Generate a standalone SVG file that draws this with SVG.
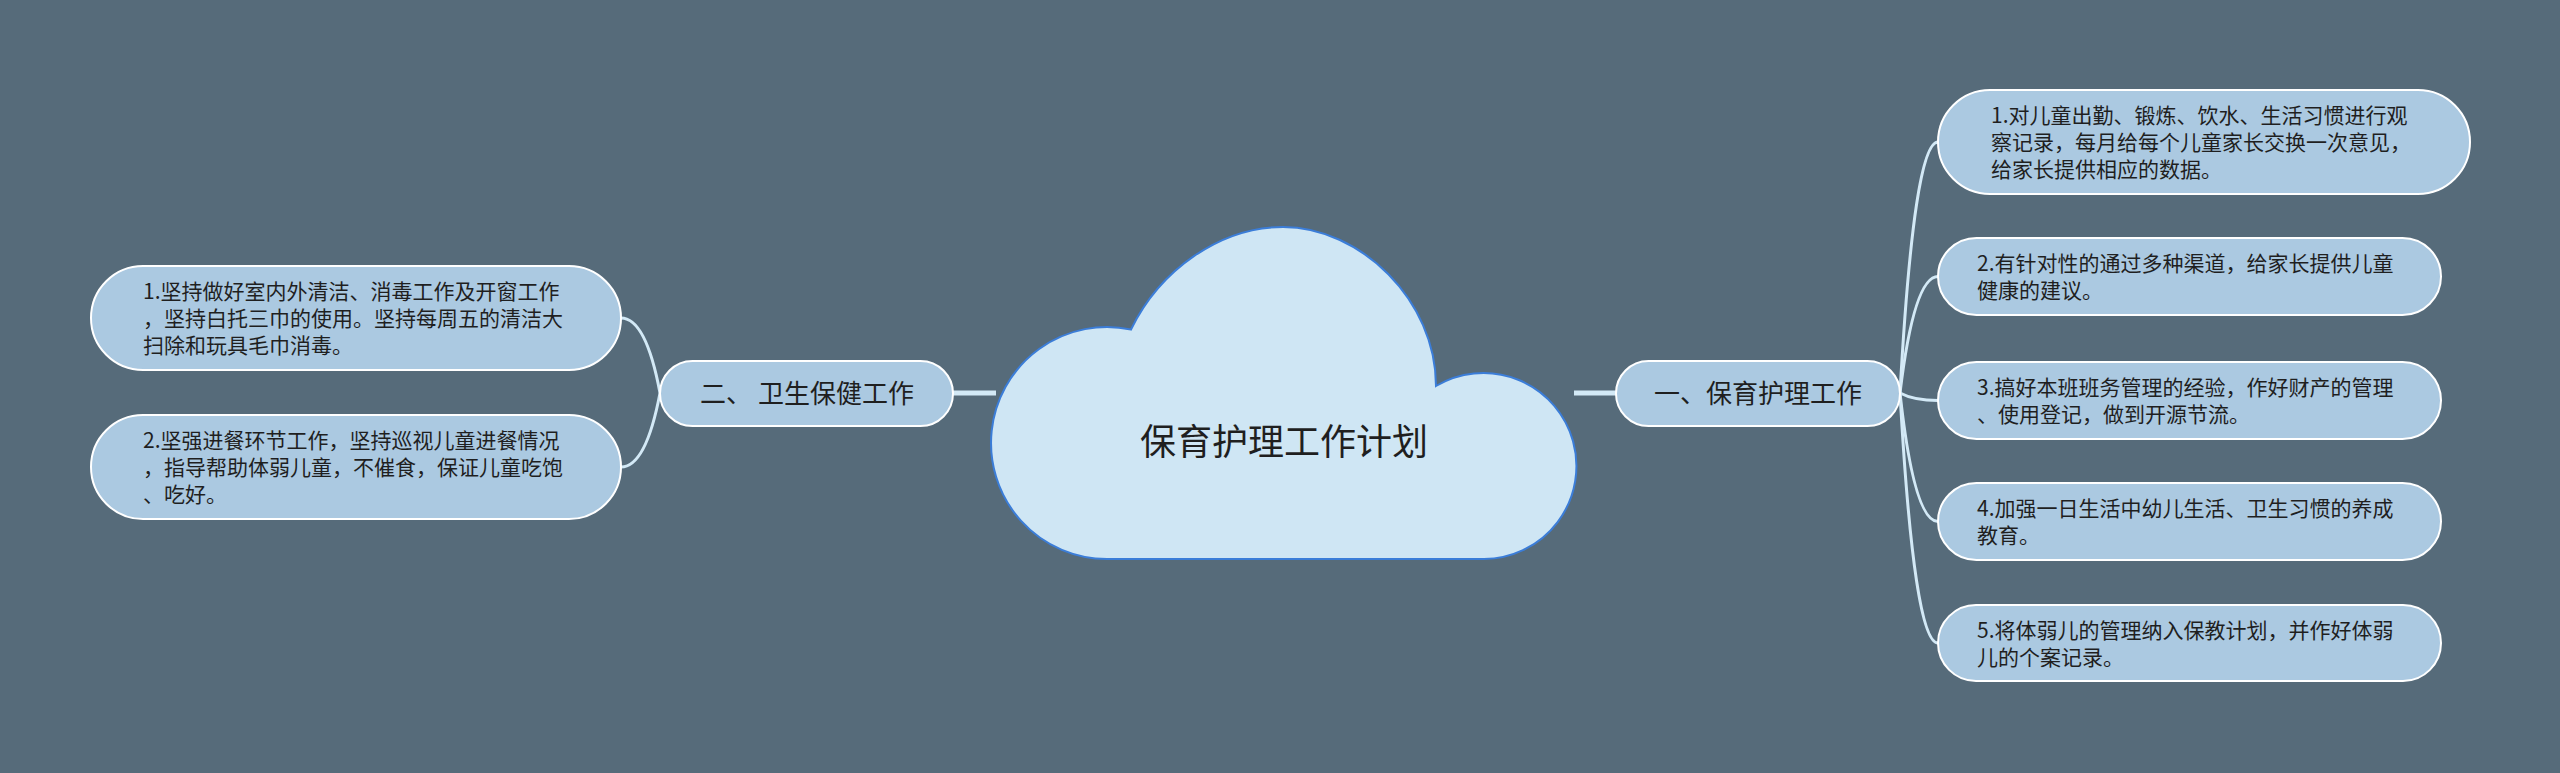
<svg xmlns="http://www.w3.org/2000/svg" width="2560" height="773" viewBox="0 0 2560 773">
<style>
text{font-family:"Noto Sans CJK SC","Noto Sans",sans-serif;fill:#1f1f1f}
.box{fill:#abc9e1;stroke:#ffffff;stroke-width:2}
.t{font-size:21px}
.m{font-size:26px}
.conn{fill:none;stroke:#d3e9f6;stroke-width:3}
.trunk{fill:none;stroke:#d3e9f6;stroke-width:5}
</style>
<rect x="0" y="0" width="2560" height="773" fill="#566b7a"/>
<g id="connectors">
<line class="trunk" x1="953" y1="393" x2="996" y2="393"/>
<line class="trunk" x1="1574" y1="393" x2="1617" y2="393"/>
<path class="conn" d="M660,393 Q646,318 621,318"/>
<path class="conn" d="M660,393 Q646,467 621,467"/>
<path class="conn" d="M1900,393 Q1914,142 1938,142"/>
<path class="conn" d="M1900,393 Q1914,276.5 1938,276.5"/>
<path class="conn" d="M1900,393 Q1914,400.5 1938,400.5"/>
<path class="conn" d="M1900,393 Q1914,521.5 1938,521.5"/>
<path class="conn" d="M1900,393 Q1914,643 1938,643"/>
</g>
<g id="root">
<path d="M1107,559 A116,116 0 1 1 1131,329.5 C1160,270 1220,227 1283,227 C1360,227 1436,300 1436,386 A93,93 0 1 1 1484,559 Z" fill="#cfe6f4" stroke="#3b7dd8" stroke-width="2"/>
<text x="1284" y="455" font-size="36" text-anchor="middle">保育护理工作计划</text>
</g>
<g id="branch1">
<rect class="box" x="1616" y="361" width="284" height="65" rx="32.5"/>
<text class="m" x="1758" y="403" text-anchor="middle">一、保育护理工作</text>
</g>
<g id="branch2">
<rect class="box" x="660" y="361" width="293" height="65" rx="32.5"/>
<text class="m" x="807" y="403" text-anchor="middle">二、 卫生保健工作</text>
</g>
<g id="b1c1">
<rect class="box" x="1938" y="90" width="532" height="104" rx="52"/>
<text class="t" x="1991" y="123">1.对儿童出勤、锻炼、饮水、生活习惯进行观</text>
<text class="t" x="1991" y="150">察记录，每月给每个儿童家长交换一次意见，</text>
<text class="t" x="1991" y="177">给家长提供相应的数据。</text>
</g>
<g id="b1c2">
<rect class="box" x="1938" y="238" width="503" height="77" rx="38.5"/>
<text class="t" x="1977" y="271">2.有针对性的通过多种渠道，给家长提供儿童</text>
<text class="t" x="1977" y="298">健康的建议。</text>
</g>
<g id="b1c3">
<rect class="box" x="1938" y="362" width="503" height="77" rx="38.5"/>
<text class="t" x="1977" y="395">3.搞好本班班务管理的经验，作好财产的管理</text>
<text class="t" x="1977" y="422">、使用登记，做到开源节流。</text>
</g>
<g id="b1c4">
<rect class="box" x="1938" y="483" width="503" height="77" rx="38.5"/>
<text class="t" x="1977" y="516">4.加强一日生活中幼儿生活、卫生习惯的养成</text>
<text class="t" x="1977" y="543">教育。</text>
</g>
<g id="b1c5">
<rect class="box" x="1938" y="605" width="503" height="76" rx="38"/>
<text class="t" x="1977" y="638">5.将体弱儿的管理纳入保教计划，并作好体弱</text>
<text class="t" x="1977" y="665">儿的个案记录。</text>
</g>
<g id="b2c1">
<rect class="box" x="91" y="266" width="530" height="104" rx="52"/>
<text class="t" x="143" y="299">1.坚持做好室内外清洁、消毒工作及开窗工作</text>
<text class="t" x="143" y="326">，坚持白托三巾的使用。坚持每周五的清洁大</text>
<text class="t" x="143" y="353">扫除和玩具毛巾消毒。</text>
</g>
<g id="b2c2">
<rect class="box" x="91" y="415" width="530" height="104" rx="52"/>
<text class="t" x="143" y="448">2.坚强进餐环节工作，坚持巡视儿童进餐情况</text>
<text class="t" x="143" y="475">，指导帮助体弱儿童，不催食，保证儿童吃饱</text>
<text class="t" x="143" y="502">、吃好。</text>
</g>
</svg>
